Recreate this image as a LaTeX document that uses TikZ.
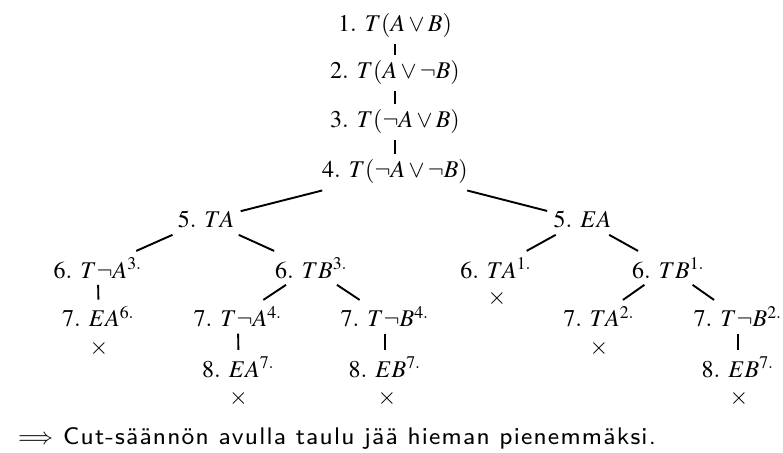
\documentclass[tikz,border=0pt]{standalone}
\usepackage[no-math]{fontspec}
\usepackage{mathptmx}
\newfontfamily\notefont{lmsans8-regular.otf}[LetterSpace=5]
\newfontfamily\arrfont{latinmodern-math.otf}
\usetikzlibrary{positioning}

\begin{document}
\begin{tikzpicture}[x=0.4167pt,y=-0.4167pt,
 lit/.style={anchor=base,inner sep=2.5pt},
 cls/.style={inner sep=0pt},
 br/.style={line width=0.8pt}]
\useasboundingbox (0,0) rectangle (783,453);
% trunk
\node[lit] (n1) at (395,32) {$1.\ T(A\vee B)$};
\node[lit] (n2) at (395,79) {$2.\ T(A\vee\neg B)$};
\node[lit] (n3) at (395,128) {$3.\ T(\neg A\vee B)$};
\node[lit] (n4) at (395,178) {$4.\ T(\neg A\vee\neg B)$};
% first split
\node[lit] (ta) at (206,228) {$5.\ TA$};
\node[lit] (ea) at (582.5,228) {$5.\ EA$};
% left branch
\node[lit] (tna) at (98,278) {$6.\ T\neg A^{3.}$};
\node[lit] (tb) at (311.5,278) {$6.\ TB^{3.}$};
\node[lit] (ea6) at (98.5,327) {$7.\ EA^{6.}$};
\node[cls] (x1) at (99,349) {$\times$};
\node[lit] (tna4) at (238,327) {$7.\ T\neg A^{4.}$};
\node[lit] (tnb4) at (385,327) {$7.\ T\neg B^{4.}$};
\node[lit] (ea7) at (238.5,377) {$8.\ EA^{7.}$};
\node[lit] (eb7) at (385,377) {$8.\ EB^{7.}$};
\node[cls] (x2) at (238.5,398) {$\times$};
\node[cls] (x3) at (387,398) {$\times$};
% right branch
\node[lit] (ta1) at (496,278) {$6.\ TA^{1.}$};
\node[cls] (x4) at (497,298) {$\times$};
\node[lit] (tb1) at (668.5,278) {$6.\ TB^{1.}$};
\node[lit] (ta2) at (599,327) {$7.\ TA^{2.}$};
\node[cls] (x5) at (599,349) {$\times$};
\node[lit] (tnb2) at (738,327) {$7.\ T\neg B^{2.}$};
\node[lit] (eb7r) at (738,377) {$8.\ EB^{7.}$};
\node[cls] (x6) at (739,398) {$\times$};
% branches
\draw[br](n1)--(n2);\draw[br](n2)--(n3);\draw[br](n3)--(n4);
\draw[br](n4)--(ta);\draw[br](n4)--(ea);
\draw[br](ta)--(tna);\draw[br](ta)--(tb);
\draw[br](tna)--(ea6);
\draw[br](tb)--(tna4);\draw[br](tb)--(tnb4);
\draw[br](tna4)--(ea7);\draw[br](tnb4)--(eb7);
\draw[br](ea)--(ta1);\draw[br](ea)--(tb1);
\draw[br](tb1)--(ta2);\draw[br](tb1)--(tnb2);
\draw[br](tnb2)--(eb7r);
% remark
\node[anchor=base west,inner sep=0pt,font=\fontsize{10}{12}\selectfont\notefont] (note) at (18,444)
 {{\arrfont ⟹}\ Cut-säännön avulla taulu jää hieman pienemmäksi.};
\end{tikzpicture}
\end{document}
